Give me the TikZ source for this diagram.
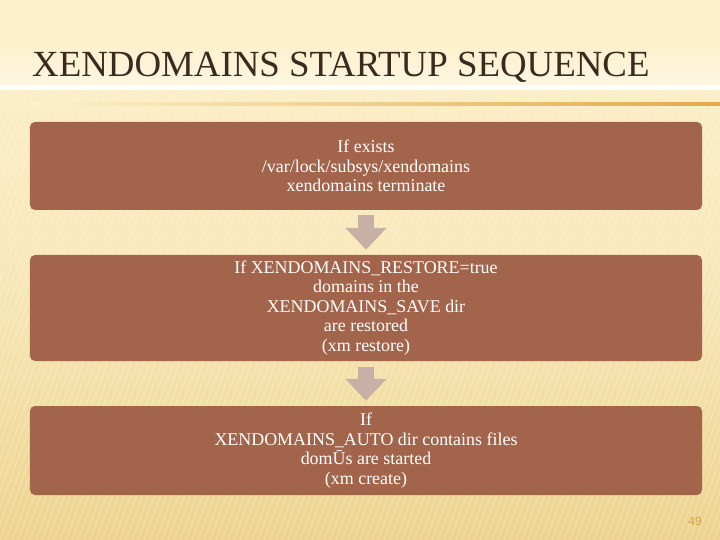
\documentclass[tikz,border=0pt]{standalone}
\usepackage{fontspec}
\setmainfont{Liberation Serif}
\newfontfamily\numfont{Liberation Sans}
\usetikzlibrary{arrows.meta,calc}
\definecolor{bgtop}{HTML}{FDF1CB}
\definecolor{bgbot}{HTML}{EDD38F}
\definecolor{boxfill}{HTML}{A3644C}
\definecolor{arrowfill}{HTML}{C9B0A6}
\definecolor{rulegold}{HTML}{E2AA4E}
\definecolor{titlecol}{HTML}{3B2B1E}
\definecolor{numcol}{HTML}{D2A542}
\tikzset{
  stepbox/.style={fill=boxfill, rounded corners=5bp, minimum width=672bp, inner sep=0pt,
    text=white, align=center, font=\fontsize{18}{19.6}\selectfont},
  flowarrow/.style={draw=arrowfill, line width=16bp,
    -{Triangle[width=40bp,length=22bp,fill=arrowfill]}}
}
\begin{document}
\begin{tikzpicture}[x=1bp,y=-1bp]
\useasboundingbox (0,0) rectangle (720,540);
% background
\shade[top color=bgtop, bottom color=bgbot, middle color=bgtop!70!bgbot] (0,0) rectangle (720,540);
\fill[bgtop] (0,0) rectangle (720,40);
\shade[top color=bgtop, bottom color=bgtop!0] (0,40) rectangle (720,90);
\begin{scope}
\clip (0,85) rectangle (720,540);
\foreach \i in {-600,-594,...,720}{
  \draw[white, opacity=0.18, line width=1.5bp] (\i,540) -- ({\i+200},0);
}
\end{scope}
\fill[bgtop, opacity=0.5] (0,0) rectangle (720,85);
% title
\node[anchor=base west, text=titlecol, font=\fontsize{37}{42}\selectfont, inner sep=0pt] (title) at (32,77) {XENDOMAINS STARTUP SEQUENCE};
\shade[left color=bgtop, right color=rulegold] (30,103) rectangle (720,105.5);
% boxes
\node[stepbox, minimum height=88bp] (b1) at (366,166) {If exists\\/var/lock/subsys/xendomains\\xendomains terminate};
\node[stepbox, minimum height=106bp] (b2) at (366,308) {If XENDOMAINS\_RESTORE=true\\domains in the\\XENDOMAINS\_SAVE dir\\are restored\\(xm restore)};
\node[stepbox, minimum height=89bp] (b3) at (366,450.5) {If\\XENDOMAINS\_AUTO dir contains files\\domŪs are started\\(xm create)};
% arrows
\draw[flowarrow] ($(b1.south)+(0,5)$) -- ($(b2.north)+(0,-5)$);
\draw[flowarrow] ($(b2.south)+(0,6)$) -- ($(b3.north)+(0,-5)$);
% page number
\node[text=numcol, font=\numfont\fontsize{12}{14}\selectfont, inner sep=0pt] (num) at (695,521) {49};
\end{tikzpicture}
\end{document}
